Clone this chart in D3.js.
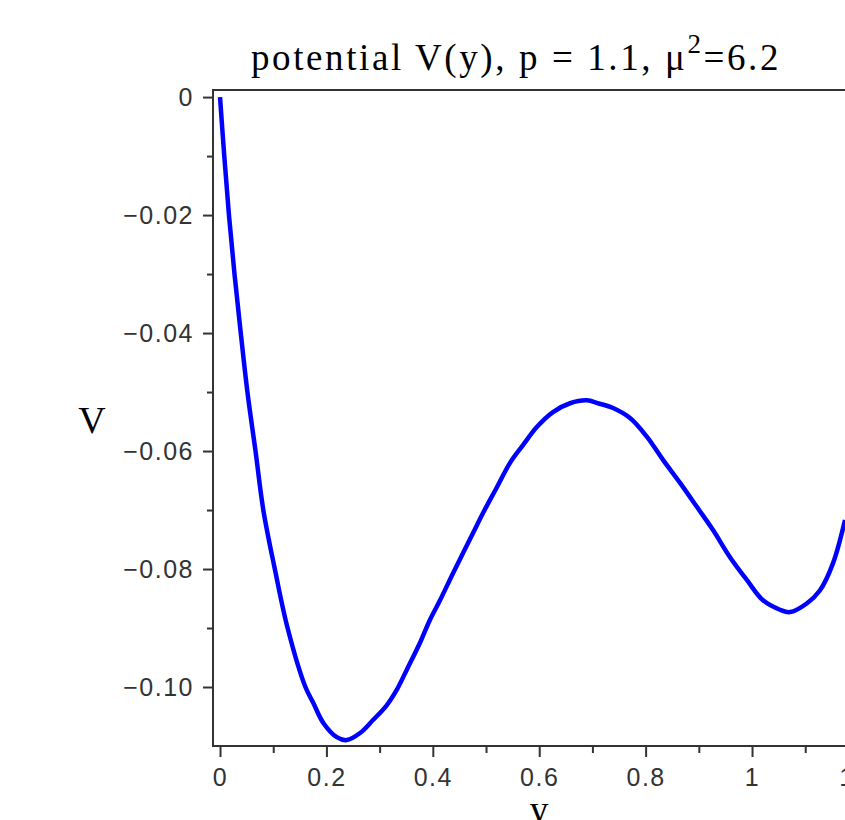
<!DOCTYPE html>
<html>
<head>
<meta charset="utf-8">
<script src="https://cdn.jsdelivr.net/npm/d3@7"></script>
<style>
  html, body { margin: 0; padding: 0; background: #fff; overflow: hidden; }
  svg { display: block; }
</style>
</head>
<body>
<div id="chart"></div>
<script>
// Curve: y (horizontal) and V (vertical)
const yValues = [0, 0.008, 0.0168, 0.0272, 0.039, 0.0515, 0.0667, 0.0814, 0.103, 0.127,
  0.1605, 0.1754, 0.1942, 0.2194, 0.2382,
  0.2632, 0.2876, 0.3133, 0.3321, 0.3509, 0.3759, 0.3947, 0.4135, 0.438, 0.4568,
  0.4756, 0.4944, 0.5207, 0.5451, 0.5695, 0.5959, 0.6259, 0.6579, 0.6898, 0.7105,
  0.7387, 0.7707, 0.8026, 0.8327, 0.8647, 0.8966, 0.9267, 0.9586, 0.9906, 1.0207,
  1.0526, 1.0714, 1.1034, 1.1278, 1.1523, 1.1748];
const vValues = [0, -0.010, -0.020, -0.030, -0.040, -0.050, -0.060, -0.070, -0.080, -0.090,
  -0.100, -0.1027, -0.1061, -0.1085, -0.1090,
  -0.1078, -0.1056, -0.1031, -0.1005, -0.0971, -0.0925, -0.0886, -0.0853, -0.0807, -0.0773,
  -0.0739, -0.0705, -0.0661, -0.0620, -0.0590, -0.0559, -0.0534, -0.0519, -0.0514, -0.0519,
  -0.0527, -0.0544, -0.0576, -0.0615, -0.0654, -0.0695, -0.0734, -0.0780, -0.0819, -0.0853,
  -0.0869, -0.0873, -0.0858, -0.0836, -0.0790, -0.0717];

// Tick values
const xMajorTicks = [0, 0.2, 0.4, 0.6, 0.8, 1, 1.2];
const xMinorTicks = [0.1, 0.3, 0.5, 0.7, 0.9, 1.1];
const vMajorTicks = [0, -0.02, -0.04, -0.06, -0.08, -0.10];
const vMinorTicks = [-0.01, -0.03, -0.05, -0.07, -0.09];

const titleText = 'potential V(y), p = 1.1, \u03bc';

const width = 845;
const height = 820;
const plot = { left: 213, top: 90, bottom: 746 };

const svg = d3.select('#chart')
  .append('svg')
  .attr('width', width)
  .attr('height', height);

// Scales (the plot runs off the right edge of the picture)
const x = d3.scaleLinear()
  .domain([-0.0132, 1.25])
  .range([plot.left, plot.left + 1.2632 * 532]);

const y = d3.scaleLinear()
  .domain([-0.11, 0.0012])
  .range([plot.bottom, plot.top]);

const tickFont = '"Liberation Sans", Arial, sans-serif';
const serifFont = '"Liberation Serif", "Times New Roman", serif';

// Frame
svg.append('rect')
  .attr('x', x(-0.0132))
  .attr('y', y(0.0012))
  .attr('width', x(1.25) - x(-0.0132))
  .attr('height', y(-0.11) - y(0.0012))
  .attr('fill', 'none')
  .attr('stroke', '#333')
  .attr('stroke-width', 2);

// Y axis
const fmtV = (d) => (d === 0 ? '0' : d3.format('.2f')(d));
svg.append('g')
  .attr('transform', `translate(${plot.left},0)`)
  .call(d3.axisLeft(y).tickValues(vMajorTicks).tickSize(10).tickPadding(9).tickFormat(fmtV));
svg.append('g')
  .attr('transform', `translate(${plot.left},0)`)
  .call(d3.axisLeft(y).tickValues(vMinorTicks).tickSize(6).tickFormat(''));

// X axis
const fmtX = (d) => (d === 0 || d === 1 ? String(d) : d3.format('.1f')(d));
svg.append('g')
  .attr('transform', `translate(0,${plot.bottom})`)
  .call(d3.axisBottom(x).tickValues(xMajorTicks).tickSize(11).tickPadding(11).tickFormat(fmtX));
svg.append('g')
  .attr('transform', `translate(0,${plot.bottom})`)
  .call(d3.axisBottom(x).tickValues(xMinorTicks).tickSize(7).tickFormat(''));

svg.selectAll('.domain').remove();
svg.selectAll('.tick line').attr('stroke', '#333').attr('stroke-width', 2);
svg.selectAll('.tick text')
  .attr('fill', '#333')
  .style('font-family', tickFont)
  .style('font-size', '25px')
  .style('letter-spacing', '1.5px');

// Curve
const line = d3.line()
  .x((d, i) => x(yValues[i]))
  .y((d) => y(d))
  .curve(d3.curveCatmullRom.alpha(0.5));

svg.append('path')
  .datum(vValues)
  .attr('fill', 'none')
  .attr('stroke', '#0000ff')
  .attr('stroke-width', 4.5)
  .attr('stroke-linejoin', 'round')
  .attr('d', line);

// Title
const title = svg.append('text')
  .attr('x', 516)
  .attr('y', 70)
  .attr('text-anchor', 'middle')
  .style('font-family', serifFont)
  .style('font-size', '37px')
  .style('letter-spacing', '2.6px')
  .attr('fill', '#000');
title.append('tspan').text(titleText);
title.append('tspan').attr('dy', -17).style('font-size', '27px').text('2');
title.append('tspan').attr('dy', 17).text('=6.2');

// Axis labels
svg.append('text')
  .attr('x', 92)
  .attr('y', 433)
  .attr('text-anchor', 'middle')
  .style('font-family', serifFont)
  .style('font-size', '38px')
  .text('V');

svg.append('text')
  .attr('x', 539)
  .attr('y', 822)
  .attr('text-anchor', 'middle')
  .style('font-family', serifFont)
  .style('font-size', '38px')
  .text('y');
</script>
</body>
</html>
